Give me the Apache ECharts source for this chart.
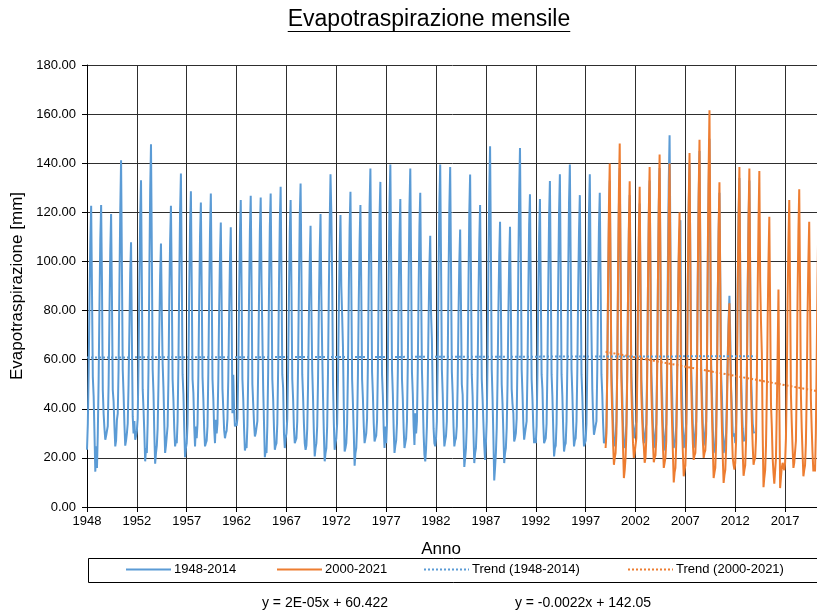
<!DOCTYPE html>
<html><head><meta charset="utf-8">
<script src="https://cdn.jsdelivr.net/npm/echarts/dist/echarts.min.js"></script>
<style>html,body{margin:0;padding:0;background:#fff}#c{width:817px;height:611px}</style>
</head><body><div id="c"></div>
<script>
// ---- DATA (monthly values, Jan..Dec) ----
const blueStartYear = 1948;
const blueMonthly = [
 [23.3,34,55,84,108,122.7,88,53,45,30,14.4,24.7],
 [15.9,30,52,82,109,123,92,47.7,38,32,27.4,29],
 [28.7,33,50,78,104,119.3,86,47.7,43,33,24.7,27],
 [35.5,38,56,90,120,141.2,98,55.8,46,34,25,27],
 [30,34,50,72,95,107.8,70,36.9,30,35,27.4,29],
 [31,36,58,90,118,133.1,92,48,40,30,18.6,24],
 [22,34,56,95,128,147.7,104,56,46.4,30,17.6,22],
 [25,32,50,72,94,107.3,80,58.5,48.4,34,22,25],
 [25,33,52,84,108,122.7,90,52,43.6,32,24.7,27],
 [26,35,58,92,120,135.8,96,54,46,32,20.3,24],
 [26,34,55,88,114,128.6,92,52,46.4,33,24.7,32.8],
 [28,34,54,84,110,124,90,53,44,32,24.7,26],
 [27,33,55,86,112,127.7,92,52,44,32,26,35.5],
 [30,34,52,80,102,115.9,84,48,40,31.4,28,30],
 [31,36,52,78,100,113.9,80,38.2,53.8,40,32.8,34],
 [33,36,55,85,110,125,90,52,44,32,23,25],
 [24,33,54,86,112,126.7,92,50,42,34,28.7,30],
 [30,35,56,86,112,126,92,70,48,34,20.3,23],
 [22,33,55,88,114,127.7,92,52,44,32,23.3,25],
 [26,34,56,90,116,130.4,95,54,48.4,30,24,28],
 [30,36,56,86,112,125,90,52,44,32,26,27],
 [28,35,58,90,118,131.7,96,54,45,34,26,23.3],
 [25,32,50,78,100,114.5,82,55.8,44,30,20.6,24],
 [26,33,52,82,104,119.3,86,63.3,45,30,18.6,22],
 [24,33,55,88,115,135.5,119.3,93,50,34,23.3,26],
 [28,34,52,80,104,118.9,90,78,65,40,22.6,24],
 [26,34,55,88,114,128.4,92,52,42,30,16.8,22],
 [24,33,54,84,108,123,90,52,44,33,26,28],
 [30,36,58,92,122,137.8,98,55,46,34,26.7,28],
 [29,35,56,90,118,132.4,95,54,45,32,24,32.8],
 [26,34,58,94,124,139.5,100,56,46,32,22,25],
 [27,34,55,86,110,125.4,90,52,44,32,24,26],
 [28,35,58,92,122,137.8,98,55,46,33,25.3,38.2],
 [30,35,56,88,114,128,92,56,44,30,21.3,18.6],
 [24,33,50,76,98,110.5,78.9,68,45,32,26,24.7],
 [28,35,58,94,124,139.5,100,56,46,33,24.7,27],
 [29,35,58,92,122,138.5,98,55,46,33,24.7,27],
 [28,33,50,78,100,113,82,50,45.7,30,16.3,20],
 [24,33,56,90,120,135.4,96,54,45,30,17.9,22],
 [24,33,54,84,108,123,90,52,44,34,25,19.2],
 [26,35,60,98,128,146.9,104,56,44,28,10.8,16],
 [22,32,52,80,102,116.2,84,50,42,30,17.9,22],
 [24,32,50,78,100,114.1,82,48,42,38,26.7,28],
 [30,36,60,98,128,146.2,104,56,46,34,27.4,30],
 [30,35,55,86,114.8,127.4,90,52,44,33,26,28],
 [26,33,54,86,110,125.4,90,54,48,34,26,27],
 [28,34,56,90,118,132.8,95,54,45,32,20.6,24],
 [25,34,57,92,120,135.5,96,54,45,32,22.6,25],
 [26,35,58,94,124,139.5,100,56,46,33,24.7,27],
 [28,35,56,88,112,127,92,54,45,33,24.7,26],
 [27,34,57,92,120,135.5,96,70.7,48,36,29.4,30],
 [30,35,56,88,114,128,92,54,46,34,26,27],
 [26,33,55,88,116,133,94,55.8,46,34,24.7,27],
 [28,35,57,92,122,138,98,56,46,33,24,26],
 [27,34,55,86,112,127,92,54,45,34,28,30],
 [30,35,55,85,108,123.6,90,52,44,33,26,27],
 [27,34,56,90,118,133,96,55,46,33,24,26],
 [26,34,57,92,122,138,98,56,46,33,23,25],
 [25,34,60,100,132,151.4,106,58,47,33,24,26],
 [27,33,52,80,100,112,116.8,60,45,32,24,26],
 [26,34,57,92,122,140,100,56,46,33,24,26],
 [26,35,58,95,126,145,102,57,46,33,25,27],
 [27,35,60,98,130,150,105,58,46,32,22,24],
 [25,33,55,86,112,128,92,54,45,32,22,24],
 [24,30,45,62,76,86,70,48,40,30,28.7,30],
 [26,34,56,90,118,134,95,55,41,32,26.7,28],
 [27,34,56,88,116,133,94,54,44,34,30.8,30]
];
const orangeStartYear = 2000;
const orangeMonthly = [
 [24,30,55,92,122,139.9,96,50,38,26,17.2,20],
 [22,30,56,96,128,148,100,52,38,24,11.8,15],
 [20,30,52,86,114,132.7,92,48,36,26,20,22],
 [22,28,50,84,112,130.4,90,46,36,28,24.7,18],
 [20,28,52,90,120,138.5,94,48,36,26,18.2,20],
 [21,28,54,92,124,143.5,98,50,36,25,15.9,18],
 [20,27,52,90,120,139.9,96,48,34,22,10,14],
 [16,26,48,78,104,120,84,44,32,22,12.5,15],
 [17,28,54,94,124,144.2,98,50,36,26,19.2,21],
 [22,30,56,96,128,149.6,102,52,38,27,20,22],
 [23,30,58,104,138,161.6,110,54,38,24,11.8,14],
 [16,26,50,86,114,132.2,90,46,32,20,9.8,13],
 [15,24,40,60,74,83,62,47.7,30,20,17.2,15.2],
 [18,27,52,90,118,138.5,94,48,34,22,12.7,15],
 [17,27,52,88,118,137.8,94,48,35,25,17.2,19],
 [20,28,52,88,116,136.8,92,75,62.6,30,8.1,12],
 [15,25,46,76,100,118.2,80,42,32.8,20,14,9.5],
 [9.5,20,40,62,88.6,45,7.7,12,16,18,17.5,15],
 [18,28,50,84,108,125,88,46,34,24,15.9,18],
 [18,27,50,86,112,129.4,90,46,32,22,12.5,15],
 [17,26,46,78,100,116.2,82,44,32,22,14.5,17],
 [14.5,30,60,92,118,132,92,48,34,24,16,18]
];
const trendBlue = [[1948, 60.9], [2015, 61.4]];
const trendOrange = [[2000, 63.2], [2022, 46.6]];
const xTickLabels = ['1948','1952','1957','1962','1967','1972','1977','1982','1987','1992','1997','2002','2007','2012','2017'];
const seriesNames = ['1948-2014','2000-2021','Trend (1948-2014)','Trend (2000-2021)'];
const equations = ['y = 2E-05x + 60.422', 'y = -0.0022x + 142.05'];
const titleText = 'Evapotraspirazione mensile';

// ---- build ----
function monthlyPoints(startYear, rows) {
  const pts = [];
  rows.forEach((row, yi) => row.forEach((v, m) => pts.push([startYear + yi + m / 12, v])));
  return pts;
}
const FONT = '"Liberation Sans", Arial, sans-serif';
const BLUE = '#5B9BD5', ORANGE = '#ED7D31', GRIDC = '#2e2e2e';

const TITLE_FONT = '23px ' + FONT;
const meas = document.createElement('canvas').getContext('2d');
meas.font = TITLE_FONT;
const titleW = meas.measureText(titleText).width;
const titleCx = 429, titleY = 20;

const legendLefts = [125, 276, 423, 627];
const legends = seriesNames.map((n, i) => ({
  data: [n], left: legendLefts[i], top: 563, padding: 0,
  itemWidth: 45, itemHeight: 12, itemGap: 0,
  itemStyle: {opacity: 0},
  textStyle: {fontSize: 13, color: '#000', fontFamily: FONT, padding: [0, 0, 0, -2]}
}));

const chart = echarts.init(document.getElementById('c'), null, {renderer: 'canvas'});
chart.setOption({
  animation: false,
  backgroundColor: '#fff',
  textStyle: {fontFamily: FONT},
  grid: {left: 87, right: -8, top: 65, bottom: 104, outerBoundsMode: 'none', containLabel: false},
  xAxis: {
    type: 'value', min: 1948, max: 2022, interval: 5,
    name: 'Anno', nameLocation: 'middle', nameGap: 34,
    nameTextStyle: {fontSize: 17, color: '#000', fontFamily: FONT, padding: [0, 30, 0, 0]},
    axisLine: {show: true, onZero: false, lineStyle: {color: '#000', width: 1}},
    axisTick: {show: true, inside: false, length: 5, lineStyle: {color: '#000'}},
    axisLabel: {fontSize: 13, color: '#000', margin: 8, fontFamily: FONT, showMaxLabel: false,
      formatter: function (v) {
        const k = Math.round((v - 1948) / 5);
        if (Math.abs(v - (1948 + 5 * k)) > 1e-6) return '';
        return xTickLabels[k] || '';
      }},
    splitLine: {show: true, lineStyle: {color: GRIDC, width: 1}}
  },
  yAxis: {
    type: 'value', min: 0, max: 180, interval: 20,
    name: 'Evapotraspirazione [mm]', nameLocation: 'middle', nameGap: 60,
    nameTextStyle: {fontSize: 17, color: '#000', fontFamily: FONT},
    axisLine: {show: true, lineStyle: {color: '#000', width: 1}},
    axisTick: {show: true, inside: false, length: 5, lineStyle: {color: '#000'}},
    axisLabel: {fontSize: 13, color: '#000', margin: 11, fontFamily: FONT,
      formatter: v => v.toFixed(2)},
    splitLine: {show: true, lineStyle: {color: GRIDC, width: 1}}
  },
  legend: legends,
  graphic: [
    {type: 'text', x: titleCx, y: titleY, style: {text: titleText, font: TITLE_FONT, fill: '#000', align: 'center', verticalAlign: 'middle'}},
    {type: 'line', shape: {x1: titleCx - titleW / 2, y1: titleY + 11.5, x2: titleCx + titleW / 2, y2: titleY + 11.5}, style: {stroke: '#000', lineWidth: 1}},
    {type: 'rect', shape: {x: 88.5, y: 558.5, width: 800, height: 24}, style: {fill: 'none', stroke: '#000', lineWidth: 1}},
    {type: 'text', x: 325, y: 603, style: {text: equations[0], font: '14px ' + FONT, fill: '#000', align: 'center', verticalAlign: 'middle'}},
    {type: 'text', x: 583, y: 603, style: {text: equations[1], font: '14px ' + FONT, fill: '#000', align: 'center', verticalAlign: 'middle'}}
  ],
  series: [
    {name: seriesNames[0], type: 'line', data: monthlyPoints(blueStartYear, blueMonthly), showSymbol: false, symbol: 'none',
      lineStyle: {color: BLUE, width: 2}, itemStyle: {color: BLUE}, z: 2},
    {name: seriesNames[1], type: 'line', data: monthlyPoints(orangeStartYear, orangeMonthly), showSymbol: false, symbol: 'none',
      lineStyle: {color: ORANGE, width: 2}, itemStyle: {color: ORANGE}, z: 3},
    {name: seriesNames[2], type: 'line', data: trendBlue, showSymbol: false, symbol: 'none',
      lineStyle: {color: BLUE, width: 2, type: [2, 2]}, itemStyle: {color: BLUE}, z: 4},
    {name: seriesNames[3], type: 'line', data: trendOrange, showSymbol: false, symbol: 'none',
      lineStyle: {color: ORANGE, width: 2, type: [2, 2]}, itemStyle: {color: ORANGE}, z: 4}
  ]
});
</script></body></html>
